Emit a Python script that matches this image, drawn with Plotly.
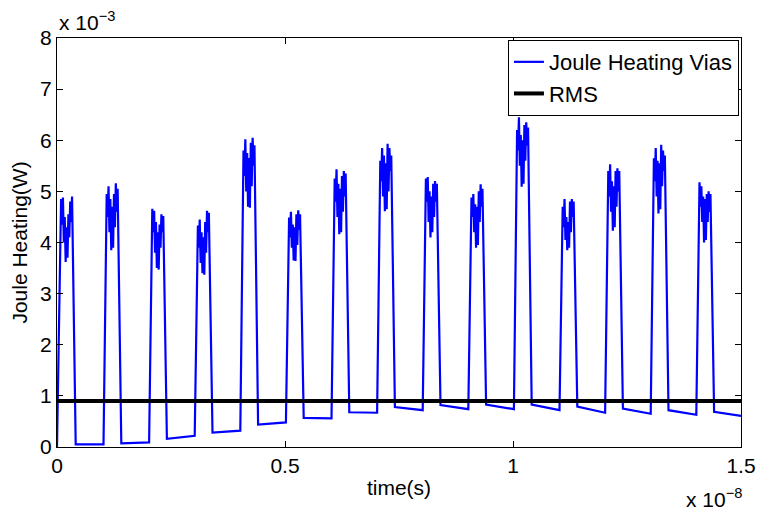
import plotly.graph_objects as go

# ---------------- data (time in ns, power in 1e-3 W) ----------------
pulse_start_ns = [0, 1, 2, 3, 4, 5, 6, 7, 8, 9, 10, 11, 12, 13, 14]
rise_offset_ns = 0.02
top_offsets_ns = [0.09, 0.11, 0.13, 0.15, 0.17, 0.19, 0.21, 0.23, 0.25, 0.27, 0.29, 0.31, 0.33]
fall_offset_ns = 0.41
end_time_ns = 15.0

top_values = [
    [4.85, 4.35, 4.88, 4.00, 4.50, 3.62, 4.30, 3.70, 4.55, 4.10, 4.80, 4.40, 4.90],
    [4.95, 4.50, 5.10, 4.20, 4.85, 3.85, 4.70, 3.90, 4.95, 4.30, 5.16, 4.60, 5.05],
    [4.66, 4.20, 4.62, 3.80, 4.40, 3.50, 4.20, 3.47, 4.35, 3.90, 4.55, 4.20, 4.52],
    [4.33, 3.90, 4.45, 3.60, 4.20, 3.40, 4.10, 3.37, 4.40, 3.80, 4.62, 4.20, 4.58],
    [5.80, 5.30, 6.02, 5.00, 5.75, 4.70, 5.65, 4.68, 5.95, 5.10, 6.05, 5.50, 5.90],
    [4.49, 4.10, 4.60, 3.90, 4.35, 3.65, 4.30, 3.64, 4.55, 3.95, 4.63, 4.25, 4.55],
    [5.25, 4.80, 5.43, 4.50, 5.15, 4.16, 5.05, 4.20, 5.30, 4.60, 5.40, 4.90, 5.35],
    [5.60, 5.20, 5.85, 4.90, 5.70, 4.61, 5.55, 4.65, 5.93, 5.00, 5.85, 5.40, 5.70],
    [5.25, 4.80, 5.28, 4.40, 5.00, 4.10, 4.90, 4.20, 5.15, 4.50, 5.20, 4.80, 5.15],
    [4.88, 4.50, 4.95, 4.20, 4.75, 3.90, 4.70, 3.95, 5.00, 4.40, 5.14, 4.70, 5.05],
    [6.20, 5.80, 6.45, 5.50, 6.10, 5.09, 6.00, 5.15, 6.30, 5.60, 6.35, 5.90, 6.25],
    [4.70, 4.30, 4.85, 4.05, 4.50, 3.85, 4.40, 3.90, 4.80, 4.20, 4.85, 4.50, 4.80],
    [5.40, 4.90, 5.53, 4.60, 5.20, 4.23, 5.10, 4.30, 5.40, 4.70, 5.45, 5.00, 5.40],
    [5.65, 5.20, 5.85, 4.90, 5.60, 4.57, 5.55, 4.65, 5.91, 5.10, 5.80, 5.40, 5.70],
    [5.18, 4.70, 5.10, 4.40, 4.90, 4.00, 4.85, 4.05, 4.95, 4.40, 5.00, 4.60, 4.95],
]

baseline_start = [0.05, 0.07, 0.16, 0.28, 0.44, 0.57, 0.68, 0.78, 0.82, 0.83, 0.83, 0.79, 0.75, 0.72, 0.69]
baseline_end = [0.05, 0.09, 0.22, 0.32, 0.48, 0.56, 0.67, 0.72, 0.74, 0.74, 0.72, 0.67, 0.65, 0.63, 0.61]

rms_value = 0.9  # 1e-3 W

x_tick_vals = [0, 0.5, 1, 1.5]
x_tick_text = ["0", "0.5", "1", "1.5"]
y_tick_vals = [0, 1, 2, 3, 4, 5, 6, 7, 8]
y_tick_text = ["0", "1", "2", "3", "4", "5", "6", "7", "8"]

# ---------------- build the trace ----------------
t_ns = [0.0]
p = [0.0]
for i, s in enumerate(pulse_start_ns):
    if i > 0:
        t_ns.append(s + rise_offset_ns)
        p.append(baseline_end[i - 1])
    for off, v in zip(top_offsets_ns, top_values[i]):
        t_ns.append(s + off)
        p.append(v)
    t_ns.append(s + fall_offset_ns)
    p.append(baseline_start[i])
t_ns.append(end_time_ns)
p.append(baseline_end[-1])

x_units = [t / 10.0 for t in t_ns]  # units of 1e-8 s

FONT = "Liberation Sans, Arial, sans-serif"
FS = 21

fig = go.Figure()
fig.add_trace(go.Scatter(x=x_units, y=p, mode="lines", name="Joule Heating Vias",
                         line=dict(color="#0000FF", width=2.2)))
fig.add_trace(go.Scatter(x=[0, 1.5], y=[rms_value, rms_value], mode="lines", name="RMS",
                         line=dict(color="#000000", width=4)))

axis_common = dict(showline=True, linecolor="black", linewidth=1, mirror="ticks",
                   ticks="inside", ticklen=6, tickcolor="black", showgrid=False,
                   zeroline=False, tickfont=dict(family=FONT, size=FS, color="black"),
                   automargin=False)

fig.update_layout(
    width=759, height=512,
    margin=dict(l=57, r=18, t=38, b=65),
    paper_bgcolor="white", plot_bgcolor="white",
    font=dict(family=FONT, size=FS, color="black"),
    xaxis=dict(range=[0, 1.5], tickvals=x_tick_vals, ticktext=x_tick_text,
               title=dict(text="time(s)", font=dict(family=FONT, size=FS), standoff=4),
               **axis_common),
    yaxis=dict(range=[0, 8], tickvals=y_tick_vals, ticktext=y_tick_text,
               title=dict(text="Joule Heating(W)", font=dict(family=FONT, size=FS), standoff=6),
               **axis_common),
    legend=dict(x=0.997, y=0.995, xanchor="right", yanchor="top",
                bgcolor="white", bordercolor="black", borderwidth=1,
                font=dict(family=FONT, size=22, color="black"),
                tracegroupgap=0, itemwidth=30),
    showlegend=True,
)

fig.add_annotation(xref="paper", yref="paper", x=0, y=1, xanchor="left", yanchor="bottom",
                   text="x 10<sup>−3</sup>", showarrow=False, yshift=2,
                   font=dict(family=FONT, size=FS, color="black"))
fig.add_annotation(xref="paper", yref="paper", x=1.005, y=0, xanchor="right", yanchor="top",
                   text="x 10<sup>−8</sup>", showarrow=False, yshift=-36,
                   font=dict(family=FONT, size=FS, color="black"))

fig.write_html("out.html")
